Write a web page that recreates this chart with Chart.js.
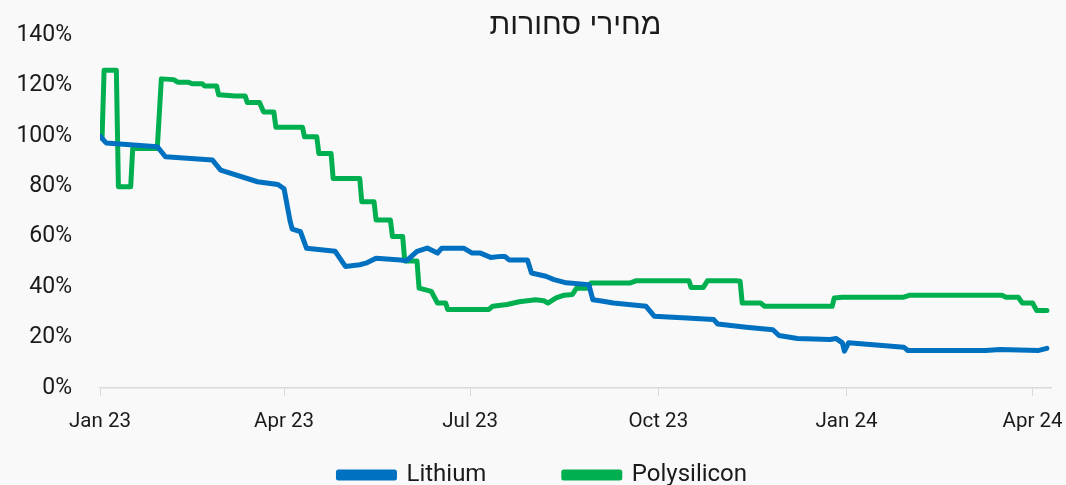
<!DOCTYPE html>
<html>
<head>
<meta charset="utf-8">
<script src="https://cdn.jsdelivr.net/npm/chart.js@4"></script>
<style>
  html, body { margin: 0; padding: 0; background: #f9f9f9; }
  #wrap { width: 1066px; height: 485px; }
</style>
</head>
<body>
<div id="wrap"><canvas id="chart"></canvas></div>
<script>
// days since 1 Jan 2023
var tickDays = [0, 90, 181, 273, 365, 456];
var tickLabels = ['Jan 23', 'Apr 23', 'Jul 23', 'Oct 23', 'Jan 24', 'Apr 24'];

var lithiumDays = [0, 1, 3, 28, 32, 55, 59, 77, 87, 90, 93, 94, 98, 101, 115, 120, 127, 130, 135, 147, 150, 155, 160, 165, 167, 178, 182, 186, 191, 196, 198, 200, 209, 211, 218, 222, 228, 239, 241, 246, 251, 267, 271, 287, 300, 302, 316, 329, 332, 341, 357, 360, 363, 364, 366, 393, 395, 433, 440, 459, 463];
var lithiumVals = [100, 99, 97.2, 95.7, 91.7, 90.4, 86.4, 81.8, 80.7, 79, 66, 63, 62, 55.4, 54.2, 48.2, 48.9, 49.5, 51.5, 50.8, 50.5, 54.2, 55.5, 53.5, 55.4, 55.4, 53.5, 53.5, 51.8, 52.2, 52.2, 50.8, 50.8, 45.6, 44.3, 43, 41.7, 41, 35, 34.4, 33.7, 32.4, 28.5, 27.8, 27.2, 25.4, 24.1, 23.1, 20.8, 19.6, 19.2, 19.6, 17.9, 14.6, 17.9, 16.2, 14.9, 14.9, 15.3, 14.9, 15.7];

var polyDays = [1, 2, 8, 9, 15, 16, 28, 30, 36, 38, 43, 45, 50, 51, 57, 58, 63, 66, 71, 72, 78, 80, 85, 86, 99, 100, 106, 107, 113, 114, 127, 128, 134, 135, 142, 143, 148, 149, 155, 156, 162, 165, 169, 170, 190, 192, 199, 205, 213, 217, 219, 223, 227, 231, 233, 238, 240, 259, 262, 288, 289, 295, 297, 311, 313, 314, 323, 325, 358, 359, 363, 393, 396, 441, 443, 449, 451, 456, 458, 463];
var polyVals = [99, 126, 126, 79.8, 79.8, 95, 95, 122.6, 122.3, 121.3, 121.3, 120.7, 120.7, 119.8, 119.8, 116.3, 116, 115.8, 115.8, 113.2, 113.2, 109.5, 109.5, 103.4, 103.4, 99.6, 99.6, 93, 93, 83.1, 83.1, 73.9, 73.9, 66.6, 66.6, 60.1, 60.1, 50.4, 50.4, 39.6, 38.3, 33.7, 33.7, 31.1, 31.1, 32.4, 33.1, 34.2, 35, 34.6, 33.7, 35.7, 36.8, 37.1, 39.6, 39.6, 41.6, 41.6, 42.5, 42.5, 39.9, 39.9, 42.5, 42.5, 42.3, 33.7, 33.7, 32.4, 32.4, 35.7, 36, 36, 36.8, 36.8, 36, 36, 33.7, 33.7, 30.7, 30.7];

function toPoints(days, vals) {
  return days.map(function (d, i) { return { x: d, y: vals[i] }; });
}

new Chart(document.getElementById('chart'), {
  type: 'line',
  data: {
    datasets: [{
      label: 'Lithium',
      data: toPoints(lithiumDays, lithiumVals),
      borderColor: '#0070c0',
      backgroundColor: '#0070c0',
      borderWidth: 5,
      pointRadius: 0,
      borderJoinStyle: 'round',
      borderCapStyle: 'round'
    }, {
      label: 'Polysilicon',
      data: toPoints(polyDays, polyVals),
      borderColor: '#00b050',
      backgroundColor: '#00b050',
      borderWidth: 5,
      pointRadius: 0,
      borderJoinStyle: 'round',
      borderCapStyle: 'round'
    }]
  },
  options: {
    responsive: true,
    maintainAspectRatio: false,
    animation: false,
    layout: { padding: { left: 0, right: 15, top: 0, bottom: -12 } },
    scales: {
      x: {
        type: 'linear',
        min: 0,
        max: 465,
        afterBuildTicks: function (axis) {
          axis.ticks = tickDays.map(function (d) { return { value: d }; });
        },
        afterFit: function (axis) {
          axis.height = 75;
          axis.paddingLeft = 0;
          axis.paddingRight = 0;
        },
        ticks: {
          autoSkip: false,
          maxRotation: 0,
          padding: 14,
          color: '#1a1a1a',
          font: { family: 'Roboto', size: 20.5 },
          callback: function (v) {
            var i = tickDays.indexOf(v);
            return i >= 0 ? tickLabels[i] : '';
          }
        },
        grid: { drawOnChartArea: false, color: '#d9d9d9', tickLength: 8 },
        border: { color: '#d9d9d9', width: 1.5 }
      },
      y: {
        min: 0,
        max: 140,
        afterFit: function (axis) {
          axis.width = 100;
          axis.paddingTop = 0;
          axis.paddingBottom = 0;
        },
        ticks: {
          stepSize: 20,
          padding: 28,
          color: '#1a1a1a',
          font: { family: 'Roboto', size: 23 },
          callback: function (v) { return v + '%'; }
        },
        grid: { display: false, drawTicks: false },
        border: { display: false }
      }
    },
    plugins: {
      title: {
        display: true,
        fullSize: false,
        text: 'מחירי סחורות',
        color: '#1a1a1a',
        font: { family: '"Liberation Sans", Roboto', size: 30, weight: 'normal', lineHeight: 1 },
        padding: { top: 11, bottom: -6 }
      },
      legend: {
        position: 'bottom',
        fullSize: false,
        labels: {
          boxWidth: 56,
          boxHeight: 6,
          padding: 0,
          color: '#1a1a1a',
          font: { family: 'Roboto', size: 24 },
          generateLabels: function (chart) {
            // trailing spaces give the wide gap between the two items
            var items = Chart.defaults.plugins.legend.labels.generateLabels(chart);
            items[0].text = items[0].text + '             ';
            items[1].text = items[1].text + '           ';
            return items;
          }
        }
      },
      tooltip: { enabled: false }
    }
  }
});
</script>
</body>
</html>
